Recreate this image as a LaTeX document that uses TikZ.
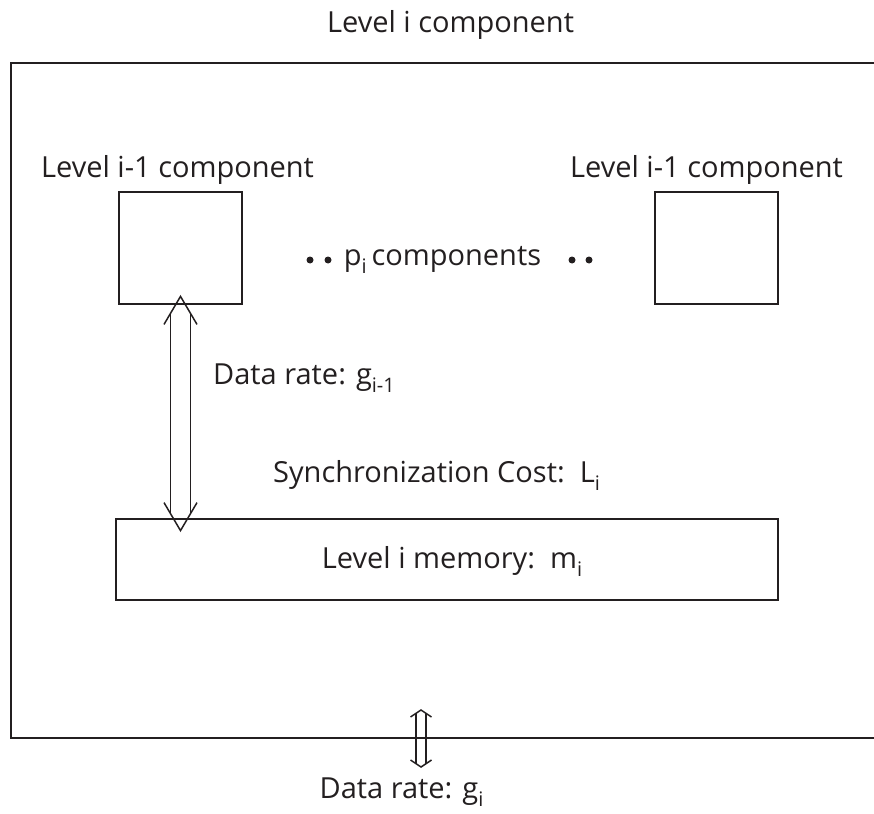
\documentclass[tikz,border=0pt]{standalone}
\usepackage{fontspec}
\setmainfont{Open Sans}
\usetikzlibrary{calc}
\definecolor{ink}{HTML}{231F20}
\newcommand\lowsub[1]{\raisebox{-0.3em}{\fontsize{20}{20}\selectfont #1}}
% hollow double-headed vertical arrow: #1 top tip, #2 bottom tip, #3 shaft half width, #4 wing half width, #5 head length
\newcommand\hollowarrow[5]{%
  \pgfmathsetmacro\shaftoff{#5*#3/#4}%
  \draw[arrowline] ($(#1)+(-#4,#5)$) -- (#1) -- ($(#1)+(#4,#5)$);
  \draw[arrowline] ($(#2)+(-#4,-#5)$) -- (#2) -- ($(#2)+(#4,-#5)$);
  \draw[arrowline] ($(#1)+(-#3,\shaftoff)$) -- ($(#2)+(-#3,-\shaftoff)$);
  \draw[arrowline] ($(#1)+(#3,\shaftoff)$) -- ($(#2)+(#3,-\shaftoff)$);
}
\begin{document}
\begin{tikzpicture}[x=1pt,y=-1pt,
  font=\fontsize{29}{34}\selectfont,
  every node/.style={text=ink},
  label/.style={inner sep=0pt, anchor=base},
  compbox/.style={draw=ink, line width=2.8pt, minimum width=123pt, minimum height=112pt, inner sep=0pt},
  membox/.style={draw=ink, line width=2.8pt, minimum width=662pt, minimum height=81pt, inner sep=0pt},
  frame/.style={draw=ink, line width=1.8pt},
  arrowline/.style={draw=ink, line width=1.5pt},
  dotmark/.style={circle, fill=ink, inner sep=0pt, minimum size=7pt}]
\useasboundingbox (0,0) rectangle (874,813);
% frame
\coordinate (ftr) at (874,63);
\coordinate (ftl) at (11,63);
\coordinate (fbl) at (11,738);
\coordinate (fbr) at (874,738);
\draw[frame] (ftr) -- (ftl) -- (fbl) -- (fbr);
\node[label] (title) at (450.5,33) {Level i component};
% components
\node[compbox] (lbox) at (180.5,248) {};
\node[compbox] (rbox) at (716.5,248) {};
\node[label] (llab) at (177.5,178) {Level i-1 component};
\node[label] (rlab) at (706.5,178) {Level i-1 component};
\node[dotmark] (d1) at (310,260) {};
\node[dotmark] (d2) at (328,260) {};
\node[label] (pcomp) at (442.5,265) {p\lowsub{i}\,components};
\node[dotmark] (d3) at (572,260) {};
\node[dotmark] (d4) at (589,260) {};
% memory
\node[membox] (mem) at (447,559.5) {};
\node[label] (memlab) at (452,568) {Level i memory:\ \ m\lowsub{i}};
\node[label, anchor=base west] (grate) at (213,384) {Data rate: g\lowsub{i-1}};
\node[label, anchor=base west] (sync) at (273,482) {Synchronization Cost:\ \ L\lowsub{i}};
% arrow between level i-1 component and memory
\coordinate (atop) at ($(lbox.south)+(0,-9)$);
\coordinate (abot) at ($(mem.north -| lbox.south)+(0,13)$);
\hollowarrow{atop}{abot}{10}{16.5}{28}
% outside data rate
\node[label] (gout) at (401.5,798) {Data rate: g\lowsub{i}};
\coordinate (otop) at (421,710);
\coordinate (obot) at (421,767);
\hollowarrow{otop}{obot}{5}{10.5}{7}
\end{tikzpicture}
\end{document}
